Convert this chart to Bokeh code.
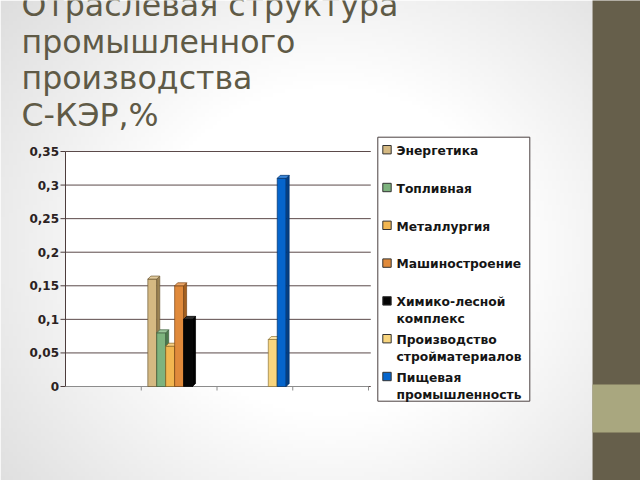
import numpy as np
from bokeh.plotting import figure
from bokeh.models import Range1d
from bokeh.embed import file_html
from bokeh.resources import INLINE
from bokeh.core.properties import value

# ---------------- data ----------------
series = ["Энергетика", "Топливная", "Металлургия", "Машиностроение",
          "Химико-лесной\nкомплекс", "Производство\nстройматериалов",
          "Пищевая\nпромышленность"]
groups = [1, 2, 3, 4]          # four unnamed groups on the category axis
energetika      = [0, 0.16, 0, 0]
toplivnaya      = [0, 0.08, 0, 0]
metallurgiya    = [0, 0.06, 0, 0]
mashinostroenie = [0, 0.15, 0, 0]
himiko_lesnoy   = [0, 0.10, 0, 0]
stroymaterialy  = [0, 0, 0.07, 0]
pishchevaya     = [0, 0, 0.31, 0]
y_ticks = [0, 0.05, 0.1, 0.15, 0.2, 0.25, 0.3, 0.35]
y_tick_labels = ["0", "0,05", "0,1", "0,15", "0,2", "0,25", "0,3", "0,35"]
title_lines = ["Отраслевая структура", "промышленного", "производства", "С-КЭР,%"]

values = [energetika, toplivnaya, metallurgiya, mashinostroenie,
          himiko_lesnoy, stroymaterialy, pishchevaya]

# ---------------- styles ----------------
front = ["#D5B982", "#7DB37E", "#F2B650", "#E08A3B", "#050505", "#F8D57E", "#0565CC"]
side = ["#9C8353", "#4C7C4E", "#B6852F", "#A4601F", "#000000", "#BC9C4E", "#023F85"]
topc = ["#E3CC9E", "#9CC79D", "#F7CC7F", "#EBA566", "#2E2E2E", "#FBE3A6", "#3A86D8"]
edge = ["#6E5A35", "#3C5E3D", "#8A6420", "#7A4515", "#000000", "#8E7638", "#02306A"]
title_color = "#5f5a46"
grid_color = "#5b4a4a"
axis_color = "#4d3d3d"
floor_color = "#8c8c8c"

W, H = 640, 480
# page layout: the value axis runs from page y=386 (0) to y=151 (0.35),
# the group axis from page x=65 (0) to x=368 (4)
PX0, PX4, PY0, PY35 = 65, 368, 386, 151
ux = (PX4 - PX0) / 4.0
uy = (PY0 - PY35) / 0.35


def X(px):
    return (px - PX0) / ux


def Y(py):
    return (PY0 - py) / uy


p = figure(width=W, height=H, output_backend="svg", toolbar_location=None,
           x_range=Range1d(X(0), X(W)), y_range=Range1d(Y(H), Y(0)),
           min_border=0)
p.axis.visible = False
p.grid.visible = False
p.outline_line_color = None
p.background_fill_color = "white"
p.border_fill_color = "white"

# soft slide background (light grey towards the corners)
gh, gw = 120, 148
yy, xx = np.mgrid[0:gh, 0:gw]
px_x = (xx + 0.5) * 592 / gw
px_y = 480 - (yy + 0.5) * 480 / gh
d = np.hypot((px_x - 330) / 1.1, px_y - 250)
shade = 255 - 34 * np.clip((d - 165) / 230, 0, 1)
img = np.zeros((gh, gw), dtype=np.uint32)
view = img.view(dtype=np.uint8).reshape((gh, gw, 4))
view[:, :, 0] = shade
view[:, :, 1] = shade
view[:, :, 2] = shade
view[:, :, 3] = 255
p.image_rgba(image=[img], x=X(0), y=Y(480), dw=X(592) - X(0), dh=Y(0) - Y(480))

# decorative side strip of the slide
p.quad(left=X(592), right=X(641), top=Y(-1), bottom=Y(481), fill_color="#665F4B", line_color=None)
p.quad(left=X(592), right=X(641), top=Y(384), bottom=Y(432), fill_color="#A9A77F", line_color=None)

# title (positions are the middles of the capital letters of each line)
p.text(x=[X(21)] * len(title_lines), y=[Y(c) for c in (4.5, 41.2, 77.9, 114.6)], text=title_lines,
       text_font=value("DejaVu Sans"), text_font_size="31.6px", text_color=title_color,
       text_baseline="middle", text_align="left")

# plot area background, grid and axes
p.quad(left=0, right=4.03, top=y_ticks[-1], bottom=0, fill_color="white", line_color=None)
n_t = len(y_ticks)
p.segment(x0=[0] * n_t, x1=[4.03] * n_t, y0=y_ticks, y1=y_ticks, line_color=grid_color, line_width=1)
p.segment(x0=[X(60)] * n_t, x1=[0] * n_t, y0=y_ticks, y1=y_ticks, line_color=axis_color, line_width=1)
p.segment(x0=[0], x1=[0], y0=[0], y1=[y_ticks[-1]], line_color=axis_color, line_width=1)
p.text(x=[X(58.5)] * n_t, y=y_ticks, text=y_tick_labels, text_font=value("DejaVu Sans"),
       text_font_style="bold", text_font_size="12px", text_color="#2b2222",
       text_align="right", text_baseline="middle")
p.segment(x0=[0], x1=[4], y0=[0], y1=[0], line_color=floor_color, line_width=1.2)
p.segment(x0=groups, x1=groups, y0=[0] * len(groups), y1=[Y(390)] * len(groups),
          line_color=floor_color, line_width=1)

# 3D clustered bars
ddx, ddy = 3 / ux, 3 / uy
bw = 0.118
n = len(series)
for j, vals in enumerate(values):
    xs_c, tops = [], []
    side_xs, side_ys, top_xs, top_ys = [], [], [], []
    for g, v in zip(groups, vals):
        if v <= 0:
            continue
        center = (g - 1) + 0.5 + (j - (n - 1) / 2) * bw
        l, r = center - bw / 2, center + bw / 2
        xs_c.append(center)
        tops.append(v)
        side_xs.append([r, r + ddx, r + ddx, r])
        side_ys.append([0, ddy, v + ddy, v])
        top_xs.append([l, r, r + ddx, l + ddx])
        top_ys.append([v, v, v + ddy, v + ddy])
    if not xs_c:
        continue
    p.vbar(x=xs_c, top=tops, bottom=0, width=bw, fill_color=front[j],
           line_color=edge[j], line_width=0.7)
    p.patches(xs=side_xs, ys=side_ys, fill_color=side[j], line_color=edge[j], line_width=0.7)
    p.patches(xs=top_xs, ys=top_ys, fill_color=topc[j], line_color=edge[j], line_width=0.7)

# legend
p.quad(left=X(377.3), right=X(529.3), top=Y(136.7), bottom=Y(400.7), fill_color="white",
       line_color="#4a4040", line_width=1)
pitch, first_c, sub = 37.8, 149.2, 16.9
gy = [first_c + i * pitch for i in range(n)]
p.rect(x=[X(386.5)] * n, y=[Y(v) for v in gy], width=8.4, height=8.4,
       width_units="screen", height_units="screen", fill_color=front,
       line_color="#333333", line_width=1)
tx, ty, tt = [], [], []
for i, name in enumerate(series):
    for k, part in enumerate(name.split("\n")):
        tx.append(X(396))
        ty.append(Y(gy[i] + 1.2 + k * sub))
        tt.append(part)
p.text(x=tx, y=ty, text=tt, text_font=value("DejaVu Sans"), text_font_style="bold",
       text_font_size="12.3px", text_color="#151515", text_baseline="middle")

open("out.html", "w").write(file_html(p, INLINE))
